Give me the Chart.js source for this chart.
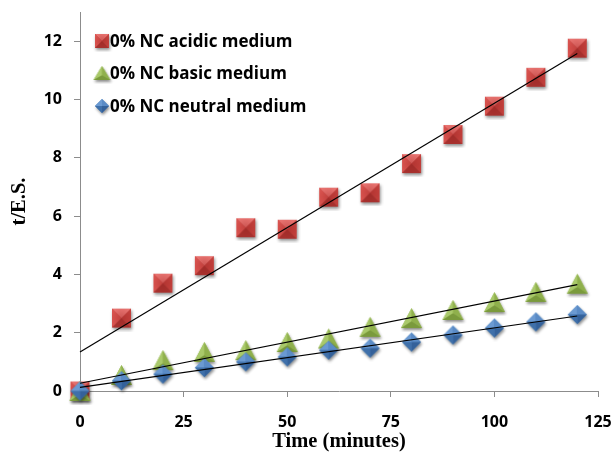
<!DOCTYPE html>
<html>
<head>
<meta charset="utf-8">
<script src="https://cdn.jsdelivr.net/npm/chart.js@4.4.1/dist/chart.umd.min.js"></script>
<style>
html,body{margin:0;padding:0;background:#fff;}
#wrap{width:613px;height:452px;position:relative;}
</style>
</head>
<body>
<div id="wrap"><canvas id="c" width="613" height="452"></canvas></div>
<script>
const times = [0,10,20,30,40,50,60,70,80,90,100,110,120];
const acidic = [0,2.5,3.7,4.3,5.6,5.55,6.65,6.8,7.8,8.8,9.77,10.76,11.76];
const basic = [0,0.55,1.06,1.34,1.4,1.68,1.8,2.2,2.5,2.78,3.05,3.4,3.68];
const neutral = [0,0.35,0.58,0.8,1.0,1.17,1.4,1.47,1.68,1.92,2.16,2.37,2.62];
const seriesNames = ['0% NC acidic medium','0% NC basic medium','0% NC neutral medium'];
const xTicks = [0,25,50,75,100,125];
const yTicks = [0,2,4,6,8,10,12];

function fit(xs, ys){
  const n=xs.length; let mx=0,my=0;
  for(let i=0;i<n;i++){mx+=xs[i];my+=ys[i];}
  mx/=n; my/=n; let sxy=0,sxx=0;
  for(let i=0;i<n;i++){sxy+=(xs[i]-mx)*(ys[i]-my);sxx+=(xs[i]-mx)*(xs[i]-mx);}
  const b=sxy/sxx, a=my-b*mx;
  const x0=xs[0], x1=xs[n-1];
  return [{x:x0,y:a+b*x0},{x:x1,y:a+b*x1}];
}
function pts(ys){return times.map((t,i)=>({x:t,y:ys[i]}));}

function mkCanvas(w,h){const c=document.createElement('canvas');c.width=w;c.height=h;return c;}

function squareImg(s){
  const pad=4, c=mkCanvas(s+pad*2,s+pad*2), g=c.getContext('2d');
  const x0=pad,y0=pad,x1=pad+s,y1=pad+s,cx=pad+s/2,cy=pad+s/2;
  g.save();g.shadowColor='rgba(0,0,0,0.45)';g.shadowBlur=3;g.shadowOffsetX=1;g.shadowOffsetY=2;
  g.fillStyle='#c0504d';g.fillRect(x0,y0,s,s);g.restore();
  const tri=(a,b,col)=>{g.beginPath();g.moveTo(a[0],a[1]);g.lineTo(b[0],b[1]);g.lineTo(cx,cy);g.closePath();g.fillStyle=col;g.fill();};
  tri([x0,y0],[x1,y0],'#e87370');
  tri([x0,y0],[x0,y1],'#d9534f');
  tri([x1,y0],[x1,y1],'#c2403c');
  tri([x0,y1],[x1,y1],'#a8322f');
  const gr=g.createRadialGradient(cx,cy,0,cx,cy,s*0.55);
  gr.addColorStop(0,'rgba(150,30,28,0.35)');gr.addColorStop(1,'rgba(150,30,28,0)');
  g.fillStyle=gr;g.fillRect(x0,y0,s,s);
  return c;
}
function triImg(w,h){
  const pad=4, c=mkCanvas(w+pad*2,h+pad*2), g=c.getContext('2d');
  const ax=pad+w/2, ay=pad, bx=pad, by=pad+h, dx=pad+w, dy=pad+h;
  g.save();g.shadowColor='rgba(0,0,0,0.45)';g.shadowBlur=3;g.shadowOffsetX=1;g.shadowOffsetY=2;
  g.beginPath();g.moveTo(ax,ay);g.lineTo(bx,by);g.lineTo(dx,dy);g.closePath();g.fillStyle='#9bbb59';g.fill();g.restore();
  const cx=pad+w/2, cy=pad+h*0.66;
  const tri=(a,b,col)=>{g.beginPath();g.moveTo(a[0],a[1]);g.lineTo(b[0],b[1]);g.lineTo(cx,cy);g.closePath();g.fillStyle=col;g.fill();};
  tri([ax,ay],[bx,by],'#a9c96a');
  tri([ax,ay],[dx,dy],'#8fb04c');
  tri([bx,by],[dx,dy],'#7a9a3c');
  return c;
}
function diaImg(w,h){
  const pad=4, c=mkCanvas(w+pad*2,h+pad*2), g=c.getContext('2d');
  const cx=pad+w/2, cy=pad+h/2;
  const T=[cx,pad],R=[pad+w,cy],B=[cx,pad+h],L=[pad,cy];
  g.save();g.shadowColor='rgba(0,0,0,0.45)';g.shadowBlur=3;g.shadowOffsetX=1;g.shadowOffsetY=2;
  g.beginPath();g.moveTo(...T);g.lineTo(...R);g.lineTo(...B);g.lineTo(...L);g.closePath();g.fillStyle='#4f81bd';g.fill();g.restore();
  const tri=(a,b,col)=>{g.beginPath();g.moveTo(a[0],a[1]);g.lineTo(b[0],b[1]);g.lineTo(cx,cy);g.closePath();g.fillStyle=col;g.fill();};
  tri(T,L,'#6b9ad2');
  tri(T,R,'#5a8bc6');
  tri(L,B,'#3f70aa');
  tri(R,B,'#34619a');
  return c;
}

const sqBig=squareImg(19), triBig=triImg(21,20), diaBig=diaImg(19,19);
const sqSm=squareImg(14), triSm=triImg(17,14), diaSm=diaImg(14,14);
const legendImgs=[sqSm,triSm,diaSm];

const legendInside={id:'legendInside',afterDraw(chart){
  const g=chart.ctx; g.save();
  const ys=[41,73,106];
  g.font='bold 17px "Open Sans"';g.fillStyle='#000';g.textBaseline='middle';g.textAlign='left';
  for(let i=0;i<3;i++){
    const im=legendImgs[i];
    g.drawImage(im,102-im.width/2,ys[i]-im.height/2);
    g.fillText(seriesNames[i],110,ys[i]+1);
  }
  g.restore();
}};

const lineDs=(data)=>({type:'line',data,borderColor:'#000',borderWidth:1.2,pointRadius:0,fill:false,order:0,tension:0,clip:false});
const tickFont={family:'Open Sans',weight:'bold',size:16};
const titleFont={family:'Liberation Serif',weight:'bold',size:20.5,lineHeight:1};

new Chart(document.getElementById('c'),{
  type:'scatter',
  data:{datasets:[
    lineDs(fit(times,acidic)),
    lineDs(fit(times,basic)),
    lineDs(fit(times,neutral)),
    {label:seriesNames[0],data:pts(acidic),pointStyle:sqBig,order:3,clip:false},
    {label:seriesNames[1],data:pts(basic),pointStyle:triBig,order:2,clip:false},
    {label:seriesNames[2],data:pts(neutral),pointStyle:diaBig,order:1,clip:false}
  ]},
  options:{
    responsive:false,animation:false,
    layout:{padding:{top:12,right:15,left:0,bottom:0}},
    plugins:{legend:{display:false},tooltip:{enabled:false}},
    scales:{
      x:{type:'linear',min:0,max:125,
        afterBuildTicks(s){s.ticks=xTicks.map(v=>({value:v}));},
        afterFit(s){s.height=61;s.paddingLeft=0;s.paddingRight=0;},
        border:{color:'#8c8c8c',width:1},
        grid:{drawOnChartArea:false,drawTicks:true,tickLength:6,color:'#8c8c8c'},
        ticks:{font:tickFont,color:'#000',padding:16,maxRotation:0},
        title:{display:true,text:'Time (minutes)',font:titleFont,color:'#000',padding:{top:0,bottom:0}}
      },
      y:{type:'linear',min:0,max:13,
        afterBuildTicks(s){s.ticks=yTicks.map(v=>({value:v}));},
        afterFit(s){s.width=80;s.paddingTop=0;s.paddingBottom=0;},
        border:{color:'#8c8c8c',width:1},
        grid:{drawOnChartArea:false,drawTicks:true,tickLength:6,color:'#8c8c8c'},
        ticks:{font:tickFont,color:'#000',padding:12},
        title:{display:true,text:'t/E.S.',font:titleFont,color:'#000',padding:{top:9,bottom:0}}
      }
    }
  },
  plugins:[legendInside]
});
</script>
</body>
</html>
